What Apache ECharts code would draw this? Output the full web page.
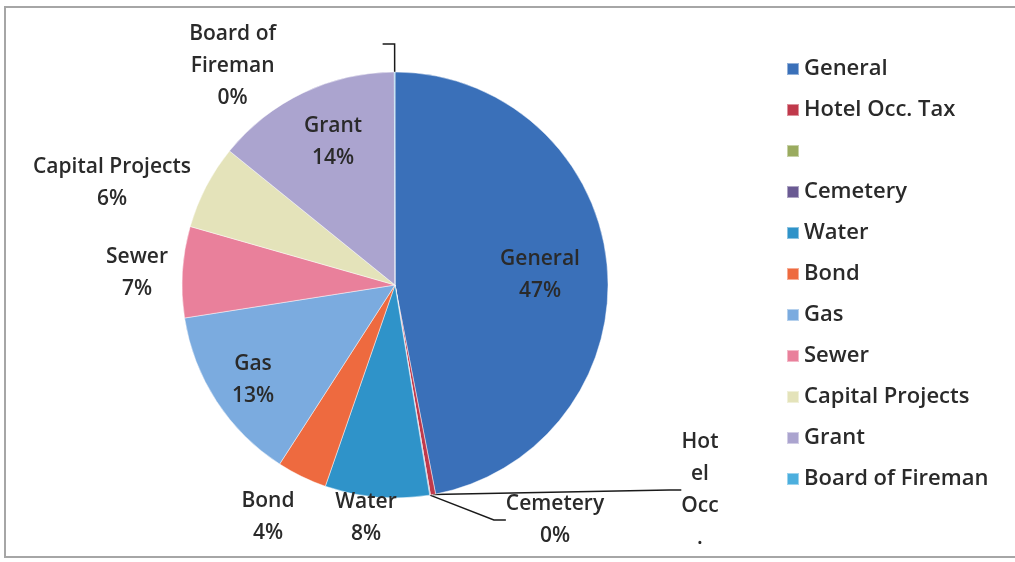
<!DOCTYPE html>
<html>
<head>
<meta charset="utf-8">
<script src="https://cdn.jsdelivr.net/npm/echarts@6/dist/echarts.min.js"></script>
<style>
  html, body { margin: 0; padding: 0; background: #fff; }
  #chart { position: absolute; left: 0; top: 0; width: 1015px; height: 562px; }
  .frame { position: absolute; left: 4px; top: 6px; width: 1030px; height: 548px; border: 2px solid #a6a6a6; }
</style>
</head>
<body>
<div class="frame"></div>
<div id="chart"></div>
<script>
// fund names (legend), clockwise from 12 o'clock
var funds = ['General', 'Hotel Occ. Tax', ' ', 'Cemetery', 'Water', 'Bond', 'Gas', 'Sewer', 'Capital Projects', 'Grant', 'Board of Fireman']
// share of total
var shares = [46.9, 0.4, 0, 0.05, 7.9, 3.8, 13.4, 6.9, 6.4, 14.1, 0.05]
// label text as printed on the chart
var labelTexts = ['General\n47%', 'Hot\nel\nOcc\n.', '', 'Cemetery\n0%', 'Water\n8%', 'Bond\n4%', 'Gas\n13%', 'Sewer\n7%', 'Capital Projects\n6%', 'Grant\n14%', 'Board of\nFireman\n0%']
var colors = ['#3a70b9', '#c0394b', '#9aab5f', '#6a5a93', '#2f93c9', '#ee6a3f', '#7babdf', '#e9809b', '#e4e3ba', '#aba4cf', '#4cafde']

// where each label sits (text centre), null = leave it to echarts
var labelPos = [[540, 275], [700, 490], null, [555, 520], [366, 518], [268, 517], [253, 380], [137, 273], [112, 183], [333, 142], null]
var lineOn = [false, true, false, true, false, false, false, false, false, false, true]

var myChart = echarts.init(document.getElementById('chart'))

var pieData = funds.map(function (name, i) {
  return {
    name: name,
    value: shares[i],
    itemStyle: { color: colors[i] },
    label: { show: labelTexts[i] !== '' },
    labelLine: { show: lineOn[i] }
  }
})

var option = {
  animation: false,
  legend: {
    orient: 'vertical',
    left: 781,
    top: 50,
    data: funds,
    icon: 'rect',
    itemWidth: 12,
    itemHeight: 12,
    itemGap: 13,
    textStyle: {
      fontFamily: 'Open Sans',
      fontSize: 22,
      fontWeight: 600,
      lineHeight: 28,
      color: '#2a2a2a'
    }
  },
  series: [{
    type: 'pie',
    center: [395, 285],
    radius: 213,
    startAngle: 90,
    clockwise: true,
    avoidLabelOverlap: false,
    data: pieData,
    itemStyle: {
      borderColor: 'rgba(255,255,255,0.45)',
      borderWidth: 1
    },
    label: {
      position: 'outside',
      formatter: function (p) { return labelTexts[p.dataIndex] },
      fontFamily: 'Open Sans',
      fontSize: 21,
      fontWeight: 600,
      lineHeight: 32,
      color: '#2a2a2a',
      align: 'center'
    },
    labelLine: {
      length: 28,
      length2: 12,
      smooth: false,
      lineStyle: { color: '#1a1a1a', width: 1.5 }
    },
    labelLayout: function (params) {
      var p = labelPos[params.dataIndex]
      if (p) {
        return { x: p[0], y: p[1], align: 'center', verticalAlign: 'middle' }
      }
      if (params.dataIndex === 10) {
        return { dx: -145, dy: 22, align: 'center', verticalAlign: 'middle' }
      }
      return {}
    }
  }]
}
myChart.setOption(option)
</script>
</body>
</html>
